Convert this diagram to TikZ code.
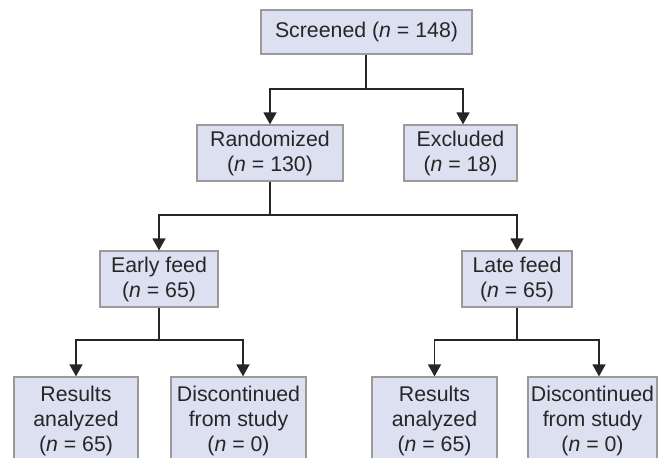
\documentclass[tikz,border=0pt]{standalone}
\usepackage{fontspec}
\setmainfont{Liberation Sans}
\usetikzlibrary{arrows.meta, positioning}
\definecolor{boxfill}{HTML}{DDE0F0}
\definecolor{boxline}{HTML}{9A9A9A}
\definecolor{inkgray}{HTML}{262626}
\tikzstyle{flow_box}=[rectangle, draw=boxline, fill=boxfill, line width=1.2pt,
   align=center, text=inkgray, inner sep=0, font=\fontsize{21.3}{25}\selectfont]
\tikzstyle{flow_line}=[draw=inkgray, line width=1.5pt]
\tikzstyle{flow_arrow}=[flow_line, -{Triangle[width=13pt, length=12pt]}]
\begin{document}
\begin{tikzpicture}[x=1pt, y=-1pt]
\useasboundingbox (0,0) rectangle (660,457);
\clip (0,0) rectangle (660,457);

% screening and randomisation
\node [flow_box, minimum width=211pt, minimum height=44pt] (screened)    at (366.5,32)  {Screened (\textit{n} = 148)};
\node [flow_box, minimum width=146pt, minimum height=56pt] (randomized)  at (270,153)   {Randomized\\(\textit{n} = 130)};
\node [flow_box, minimum width=113pt, minimum height=56pt] (excluded)    at (460.5,153) {Excluded\\(\textit{n} = 18)};

% feeding groups
\node [flow_box, minimum width=118pt, minimum height=56pt] (early_feed)  at (159,279)   {Early feed\\(\textit{n} = 65)};
\node [flow_box, minimum width=110pt, minimum height=56pt] (late_feed)   at (517,279)   {Late feed\\(\textit{n} = 65)};

% outcomes
\node [flow_box, minimum width=124pt, minimum height=88pt] (early_results) at (76,421)    {Results\\analyzed\\(\textit{n} = 65)};
\node [flow_box, minimum width=135pt, minimum height=88pt] (early_disc)    at (238.5,421) {Discontinued\\from study\\(\textit{n} = 0)};
\node [flow_box, minimum width=125pt, minimum height=88pt] (late_results)  at (434.5,421) {Results\\analyzed\\(\textit{n} = 65)};
\node [flow_box, minimum width=129pt, minimum height=88pt] (late_disc)     at (592.5,421) {Discontinued\\from study\\(\textit{n} = 0)};

% branch points
\coordinate (split_screened) at (366,89);
\coordinate (split_random)   at (270,215);
\coordinate (split_early)    at (159,340);
\coordinate (split_late)     at (517,340);

% connectors
\draw[flow_line]  (split_screened |- screened.south) -- (split_screened);
\draw[flow_arrow] (split_screened) -| (randomized.north);
\draw[flow_arrow] (split_screened) -| ([xshift=2.5pt]excluded.north);

\draw[flow_line]  (randomized.south) -- (split_random);
\draw[flow_arrow] (split_random) -| (early_feed.north);
\draw[flow_arrow] (split_random) -| (late_feed.north);

\draw[flow_line]  (early_feed.south) -- (split_early);
\draw[flow_arrow] (split_early) -| (early_results.north);
\draw[flow_arrow] (split_early) -| ([xshift=4.5pt]early_disc.north);

\draw[flow_line]  (late_feed.south) -- (split_late);
\draw[flow_arrow] (split_late) -| (late_results.north);
\draw[flow_arrow] (split_late) -| ([xshift=6.5pt]late_disc.north);

\end{tikzpicture}
\end{document}
